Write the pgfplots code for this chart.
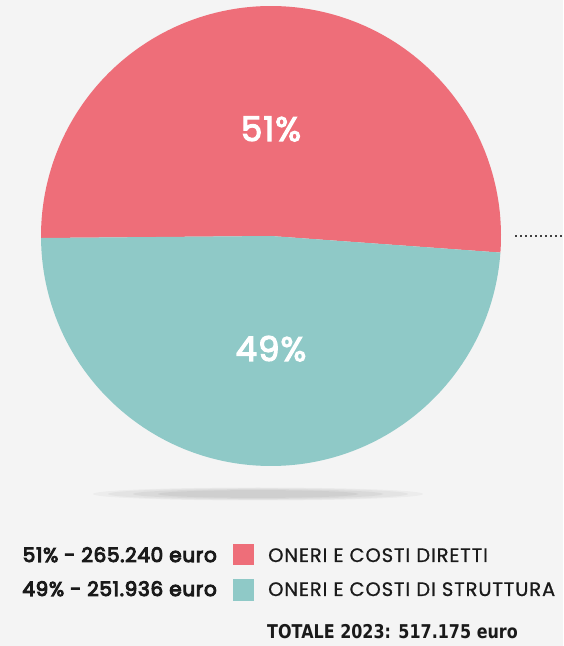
\documentclass[border=0pt]{standalone}
\usepackage{pgfplots}
\pgfplotsset{compat=1.18}
\usepackage{pgfplotstable}
\usepackage{fontspec}
\setmainfont{Poppins}
\newfontfamily\popmed[LetterSpace=3.5,FakeBold=5]{Poppins}
\newfontfamily\popbig[LetterSpace=3,FakeBold=3.5]{Poppins}
\newfontfamily\popreg[LetterSpace=4.5,FakeBold=0.8]{Poppins}
\newfontfamily\cond[FakeStretch=0.84]{DejaVu Sans Bold}
\definecolor{pred}{HTML}{EE6E79}
\definecolor{pteal}{HTML}{8FC9C7}
\definecolor{bg}{HTML}{F4F4F4}
\definecolor{txt}{HTML}{1A1A1A}
\pgfplotstableread{
label value
diretti 265.240
struttura 251.936
}\piedata
\pgfplotstablegetelem{0}{value}\of\piedata \let\va\pgfplotsretval
\pgfplotstablegetelem{1}{value}\of\piedata \let\vb\pgfplotsretval
\pgfmathsetmacro\ang{\va/(\va+\vb)*360}
\pgfmathsetmacro\startang{180.5-\ang}
\pgfmathsetmacro\endang{180.5-\ang+360}
\begin{document}
\begin{tikzpicture}
\begin{axis}[x=1pt,y=1pt,xmin=0,xmax=563,ymin=0,ymax=646,hide axis,clip=false]
\fill[bg] (axis cs:0,0) rectangle (axis cs:563,646);
% shadow
\fill[black!35,opacity=0.10] (axis cs:258,152) ellipse [x radius=165pt, y radius=6.5pt];
\fill[black!35,opacity=0.12] (axis cs:258,152) ellipse [x radius=150pt, y radius=5.8pt];
\fill[black!35,opacity=0.15] (axis cs:258,152) ellipse [x radius=125pt, y radius=4.9pt];
\fill[black!35,opacity=0.18] (axis cs:258,152) ellipse [x radius=100pt, y radius=3.9pt];
% pie
\fill[pred] (axis cs:271,410) -- ++(\startang:230pt) arc[start angle=\startang, end angle=180.5, radius=230pt] -- cycle;
\fill[pteal] (axis cs:271,410) -- ++(180.5:230pt) arc[start angle=180.5, end angle=\endang, radius=230pt] -- cycle;
\node[white,inner sep=0,anchor=base] at (axis cs:271,505) {\popbig\fontsize{34}{40}\selectfont 51\%};
\node[white,inner sep=0,anchor=base] at (axis cs:271,285) {\popbig\fontsize{34}{40}\selectfont 49\%};
% dotted leader
\draw[black!75,line width=1.5pt,dash pattern=on 1.5pt off 3.5pt] (axis cs:515,410) -- (axis cs:563,410);
% legend
\fill[pred] (axis cs:233,81) rectangle (axis cs:254,102);
\fill[pteal] (axis cs:233,45) rectangle (axis cs:254,67);
\node[anchor=base east,inner sep=0,text=txt] at (axis cs:217,84) {\popmed\fontsize{20}{24}\selectfont 51\% - 265.240 euro};
\node[anchor=base east,inner sep=0,text=txt] at (axis cs:217,50) {\popmed\fontsize{20}{24}\selectfont 49\% - 251.936 euro};
\node[anchor=base west,inner sep=0,text=txt] at (axis cs:268,84) {\popreg\fontsize{19.5}{24}\selectfont ONERI E COSTI DIRETTI};
\node[anchor=base west,inner sep=0,text=txt] at (axis cs:268,50) {\popreg\fontsize{19.5}{24}\selectfont ONERI E COSTI DI STRUTTURA};
\node[anchor=base west,inner sep=0,text=txt] at (axis cs:267,7) {\cond\fontsize{19}{22}\selectfont TOTALE 2023: 517.175 euro};
\end{axis}
\end{tikzpicture}
\end{document}
